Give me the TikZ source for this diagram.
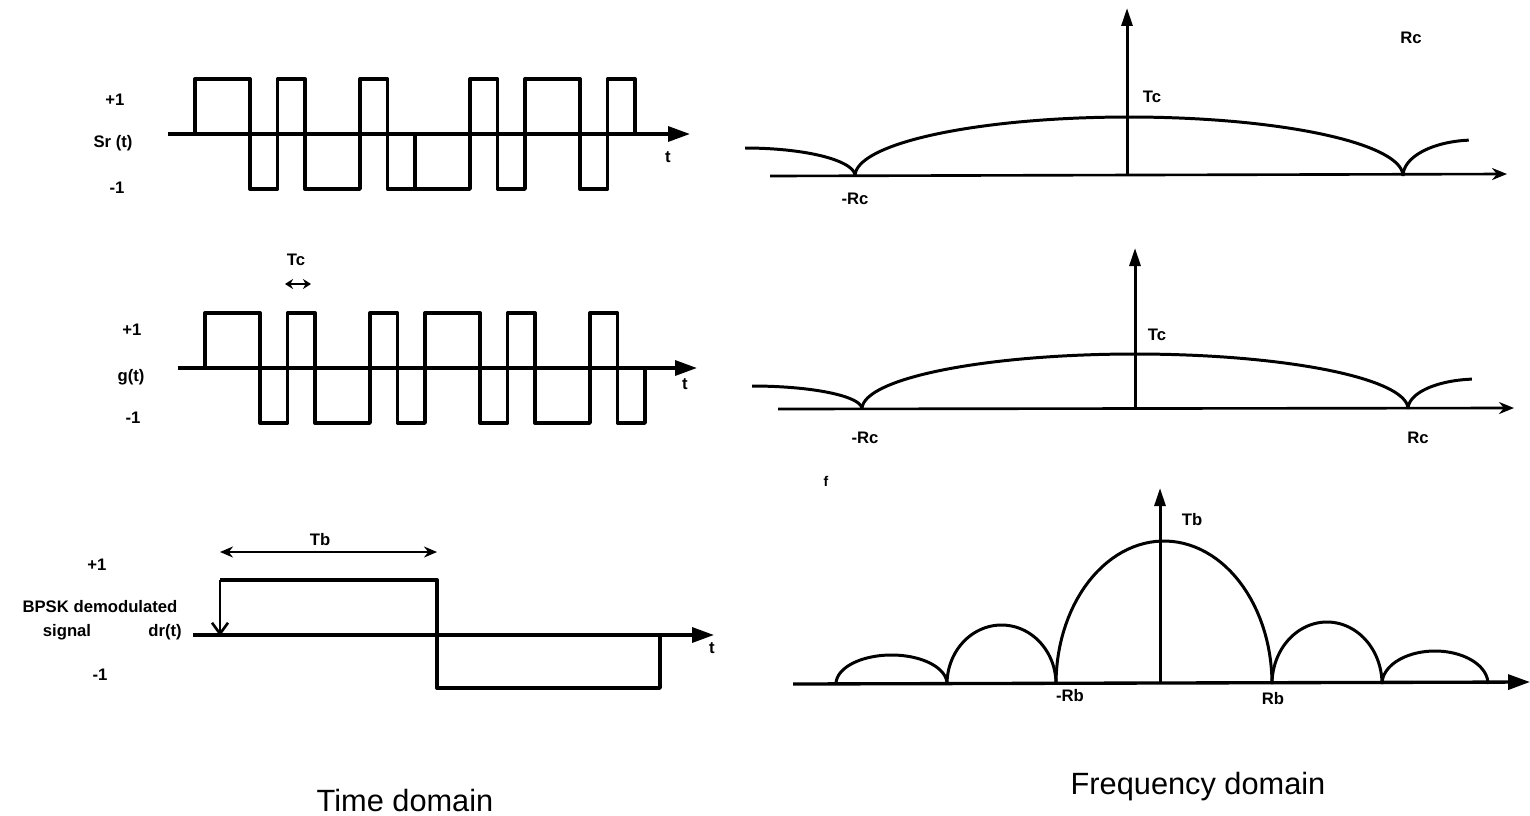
\documentclass[tikz,border=0pt]{standalone}
\usepackage{fontspec}
\setmainfont{Liberation Sans}
\usetikzlibrary{arrows.meta,positioning,calc}

\begin{document}
\begin{tikzpicture}[
    x=0.02cm, y=-0.02cm,
    taxis/.style={line width=1.9pt, -{Triangle[length=4.4mm, width=3mm]}},
    vaxis/.style={line width=1.7pt, -{Triangle[length=3.6mm, width=2.2mm]}},
    faxis/.style={line width=1.5pt, -{Stealth[length=3mm, width=2.4mm]}},
    wave/.style={line width=1.9pt, line join=round},
    lobe/.style={line width=1.7pt},
    dim/.style={line width=1.2pt, {Stealth[length=2.6mm, width=2.2mm]}-{Stealth[length=2.6mm, width=2.2mm]}},
    lbl/.style={font=\fontsize{9.5}{11}\selectfont\bfseries, inner sep=1pt},
    ttl/.style={font=\fontsize{17.5}{20}\selectfont, inner sep=1pt}
]
    \useasboundingbox (0,0) rectangle (1530,815);

    % Spread signal Sr(t)
    \node[lbl] (srhi) at (115,100) {+1};
    \node[lbl] (srlbl) at (113,143) {Sr (t)};
    \node[lbl] (srlo) at (117,188) {-1};
    \node[lbl] (srt) at (668,157) {t};
    \coordinate (srA) at (168,134);
    \coordinate (srB) at (690,134);
    \draw[taxis] (srA) -- (srB);
    \draw[wave] (195,134) foreach \v [count=\i] in {1,1,-1,1,-1,-1,1,-1,-1,-1,1,-1,1,1,-1,1}
        { -- ({195+27.5*(\i-1)},{134-55*\v}) -- ({195+27.5*\i},{134-55*\v}) } -- (635,134);
    \draw[wave] (415,189) -- (415,134);

    % PN code g(t)
    \node[lbl] (tclbl) at (296,260) {Tc};
    \coordinate (tcA) at (285,284);
    \coordinate (tcB) at (311,284);
    \draw[dim, {Stealth[length=1.6mm, width=2mm]}-{Stealth[length=1.6mm, width=2mm]}] (tcA) -- (tcB);
    \node[lbl] (ghi) at (132,330) {+1};
    \node[lbl] (glbl) at (131,377) {g(t)};
    \node[lbl] (glo) at (133,418) {-1};
    \node[lbl] (gt) at (685,384) {t};
    \coordinate (gA) at (178,368);
    \coordinate (gB) at (697,368);
    \draw[taxis] (gA) -- (gB);
    \draw[wave] (205,368) foreach \v [count=\i] in {1,1,-1,1,-1,-1,1,-1,1,1,-1,1,-1,-1,1,-1}
        { -- ({205+27.5*(\i-1)},{368-55*\v}) -- ({205+27.5*\i},{368-55*\v}) } -- (645,368);

    % Demodulated signal dr(t)
    \node[lbl] (tblbl) at (320,540) {Tb};
    \coordinate (tbA) at (220,552);
    \coordinate (tbB) at (437,552);
    \draw[dim] (tbA) -- (tbB);
    \node[lbl] (drhi) at (97,565) {+1};
    \node[lbl] (bpsk) at (100,607) {BPSK demodulated};
    \node[lbl] (sig) at (67,632) {signal};
    \node[lbl] (drlbl) at (165,632) {dr(t)};
    \node[lbl] (drlo) at (100,675) {-1};
    \node[lbl] (drt) at (712,648) {t};
    \coordinate (drA) at (193,635);
    \coordinate (drB) at (714,635);
    \draw[taxis] (drA) -- (drB);
    \draw[wave] (220,580) -- (437,580) -- (437,688) -- (660,688) -- (660,635);
    \coordinate (drtop) at (220,580);
    \coordinate (drbot) at (220,636);
    \draw[line width=1.5pt, -{Straight Barb[length=2.2mm, width=3.2mm]}] (drtop) -- (drbot);

    % Spectrum of Sr(t)
    \coordinate (fAo) at (1127,176);
    \coordinate (fAl) at (770,176);
    \coordinate (fAr) at (1507,174);
    \coordinate (fAt) at (1127,8);
    \draw[faxis] (fAl) -- (fAr);
    \draw[vaxis] (fAo) -- (fAt);
    \draw[lobe] plot[domain=180:0, samples=80] ({1129+274*cos(\x)},{176-59*sin(\x)});
    \draw[lobe] plot[domain=90:0, samples=30] ({745+110*cos(\x)},{176-28*sin(\x)});
    \draw[lobe] plot[domain=180:95, samples=30] ({1475+72*cos(\x)},{176-36*sin(\x)});
    \node[lbl] (fAtc) at (1152,97) {Tc};
    \node[lbl] (fAm) at (855,199) {-Rc};
    \node[lbl] (fAp) at (1411,38) {Rc};

    % Spectrum of g(t)
    \coordinate (fBo) at (1135,409);
    \coordinate (fBl) at (778,409);
    \coordinate (fBr) at (1514,408);
    \coordinate (fBt) at (1135,248);
    \draw[faxis] (fBl) -- (fBr);
    \draw[vaxis] (fBo) -- (fBt);
    \draw[lobe] plot[domain=180:0, samples=80] ({1135+273*cos(\x)},{409-55*sin(\x)});
    \draw[lobe] plot[domain=90:0, samples=30] ({752+110*cos(\x)},{409-23*sin(\x)});
    \draw[lobe] plot[domain=180:95, samples=30] ({1478+70*cos(\x)},{409-30*sin(\x)});
    \node[lbl] (fBtc) at (1157,335) {Tc};
    \node[lbl] (fBm) at (865,438) {-Rc};
    \node[lbl] (fBp) at (1418,438) {Rc};
    \node[lbl, font=\fontsize{8}{9}\selectfont\bfseries] (fBf) at (826,481) {f};

    % Spectrum of dr(t)
    \coordinate (fCo) at (1160,684);
    \coordinate (fCl) at (793,684);
    \coordinate (fCr) at (1530,682);
    \coordinate (fCt) at (1160,488);
    \draw[taxis] (fCl) -- (fCr);
    \draw[vaxis] (fCo) -- (fCt);
    \foreach \a/\b/\h in {836/947/29, 947/1056/59, 1056/1272/143, 1272/1382/62, 1382/1488/33}
        \draw[lobe] plot[domain=180:0, samples=60] ({(\a+\b)/2+(\b-\a)/2*cos(\x)},{684-\h*sin(\x)});
    \node[lbl] (fCtb) at (1192,520) {Tb};
    \node[lbl] (fCm) at (1070,696) {-Rb};
    \node[lbl] (fCp) at (1273,699) {Rb};

    % Titles
    \node[ttl] (tdom) at (405,800) {Time domain};
    \node[ttl] (fdom) at (1198,787) {Frequency domain};
\end{tikzpicture}
\end{document}
